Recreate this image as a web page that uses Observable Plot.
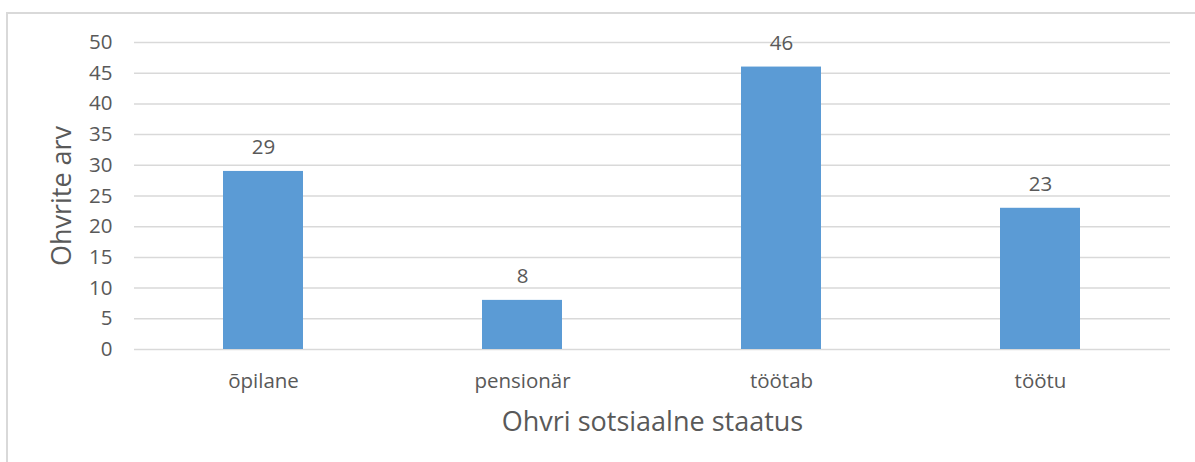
<!DOCTYPE html>
<html>
<head>
<meta charset="utf-8">
<script src="https://cdn.jsdelivr.net/npm/d3@7"></script>
<script src="https://cdn.jsdelivr.net/npm/@observablehq/plot@0.6"></script>
<style>
  html, body { margin: 0; padding: 0; background: #fff; }
  #wrap { position: relative; width: 1195px; height: 462px; }
  #border { position: absolute; left: 6px; top: 12px; right: -4px; bottom: -4px;
            border-left: 2px solid #d9d9d9; border-top: 2px solid #d9d9d9; pointer-events: none; }
</style>
</head>
<body>
<div id="wrap"><div id="border"></div></div>
<script>
const categories = ["õpilane", "pensionär", "töötab", "töötu"];
const values = [29, 8, 46, 23];
const yTicks = [0, 5, 10, 15, 20, 25, 30, 35, 40, 45, 50];
const xTitle = "Ohvri sotsiaalne staatus";
const yTitle = "Ohvrite arv";

const data = categories.map((c, i) => ({category: c, value: values[i]}));
const textColor = "#595959";

const chart = Plot.plot({
  width: 1195,
  height: 462,
  marginLeft: 134,
  marginRight: 25,
  marginTop: 42,
  marginBottom: 113,
  style: {fontFamily: "'Open Sans', sans-serif", color: textColor, background: "transparent"},
  x: {domain: categories, paddingInner: 0.69, paddingOuter: 0.345, label: null},
  y: {domain: [0, 50], label: null},
  marks: [
    Plot.gridY(yTicks, {stroke: "#d9d9d9", strokeOpacity: 1, strokeWidth: 1.5}),
    Plot.barY(data, {x: "category", y: "value", fill: "#5b9bd5"}),
    Plot.text(data, {x: "category", y: "value", text: d => String(d.value), dy: -24,
      fontSize: 20.5, fill: textColor}),
    Plot.axisY(yTicks, {tickSize: 0, tickPadding: 22, fontSize: 20.5, fill: textColor, label: null}),
    Plot.axisX({tickSize: 0, tickPadding: 24, fontSize: 20.5, fill: textColor, label: null}),
    Plot.text([xTitle], {frameAnchor: "bottom", lineAnchor: "middle", textAnchor: "middle",
      dy: 73, fontSize: 27, fill: textColor}),
    Plot.text([yTitle], {frameAnchor: "left", lineAnchor: "middle", textAnchor: "middle",
      dx: -72, rotate: -90, fontSize: 27, fill: textColor})
  ]
});
document.getElementById("wrap").prepend(chart);
</script>
</body>
</html>
